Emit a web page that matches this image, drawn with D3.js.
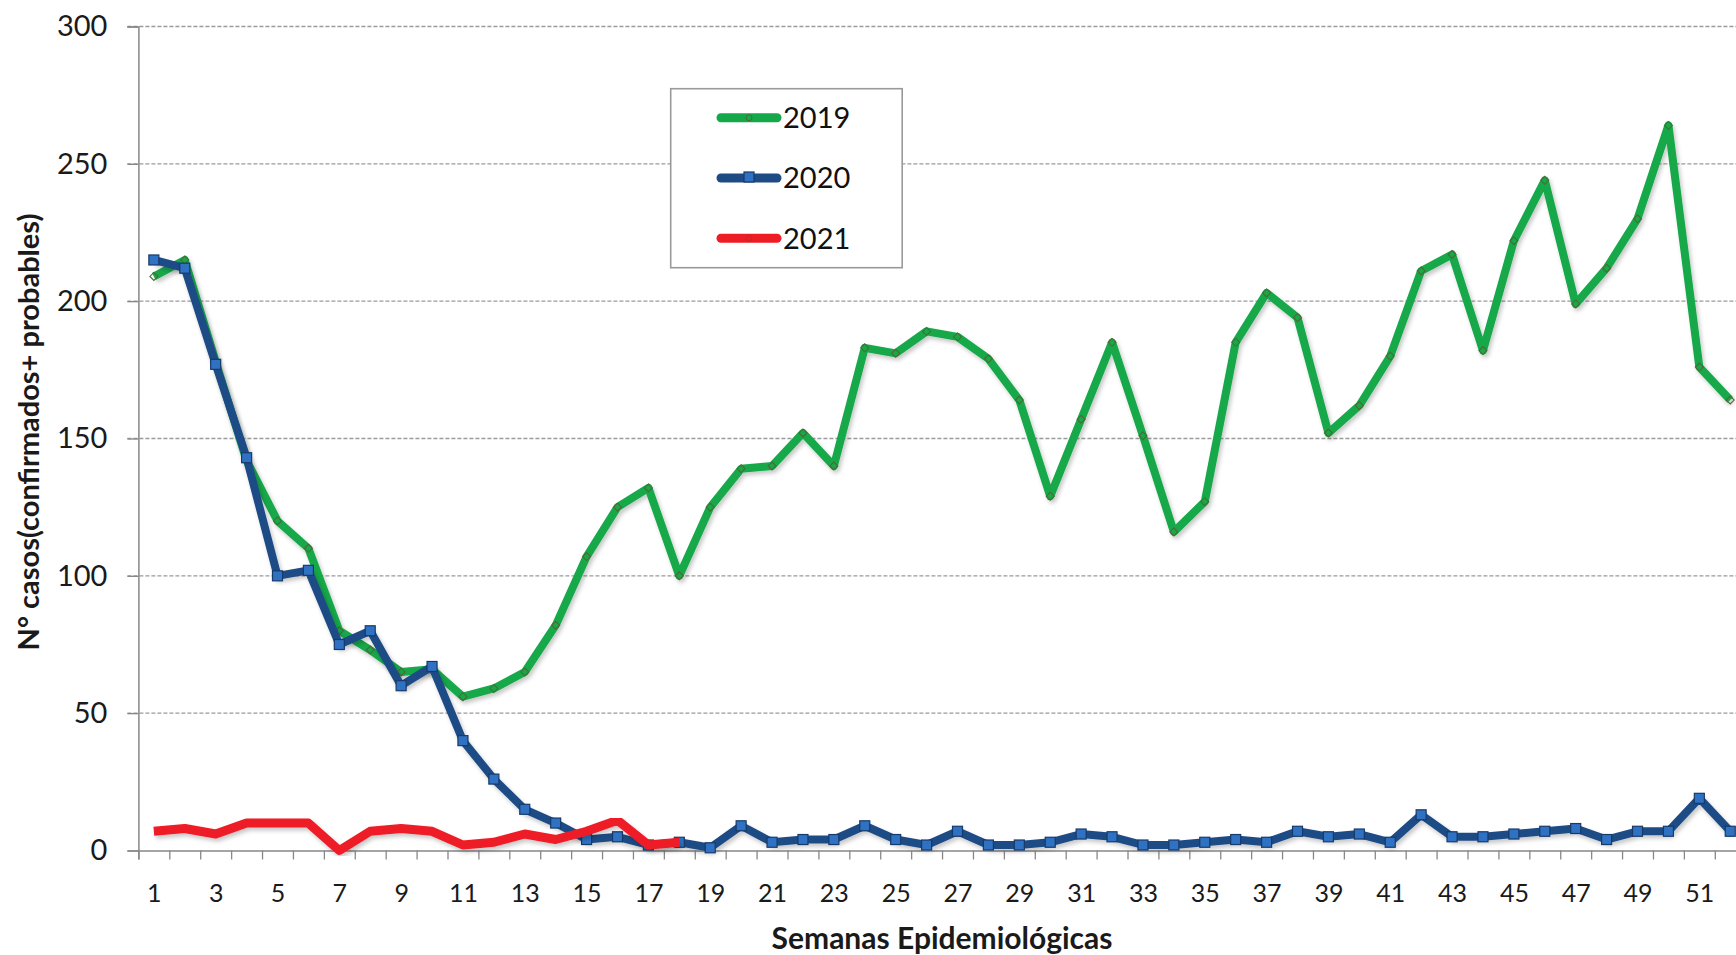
<!DOCTYPE html>
<html>
<head>
<meta charset="utf-8">
<script src="https://cdn.jsdelivr.net/npm/d3@7"></script>
<style>
  html, body { margin: 0; padding: 0; background: #fff; overflow: hidden; }
  svg { display: block; font-family: Lato, "Liberation Sans", sans-serif; }
</style>
</head>
<body>
<svg id="chart" width="1736" height="955"></svg>
<script>
const weeks = d3.range(1, 53)
const weekLabels = d3.range(1, 53, 2)
const yTicks = [0, 50, 100, 150, 200, 250, 300]

const cases2019 = [209, 215, 178, 142, 120, 110, 80, 73, 65, 66, 56, 59, 65, 82, 107, 125, 132, 100, 125, 139,
  140, 152, 140, 183, 181, 189, 187, 179, 164, 129, 157, 185, 151, 116, 127, 185, 203, 194, 152, 162,
  180, 211, 217, 182, 222, 244, 199, 212, 230, 264, 176, 164]
const cases2020 = [215, 212, 177, 143, 100, 102, 75, 80, 60, 67, 40, 26, 15, 10, 4, 5, 2, 3, 1, 9,
  3, 4, 4, 9, 4, 2, 7, 2, 2, 3, 6, 5, 2, 2, 3, 4, 3, 7, 5, 6,
  3, 13, 5, 5, 6, 7, 8, 4, 7, 7, 19, 7]
const cases2021 = [7, 8, 6, 10, 10, 10, 0, 7, 8, 7, 2, 3, 6, 4, 7, 11, 2, 3]

const series = [
  {name: "2019", values: cases2019, color: "#14a84a", marker: "diamond", width: 8},
  {name: "2020", values: cases2020, color: "#1f4b85", marker: "square", width: 8},
  {name: "2021", values: cases2021, color: "#ee1c25", marker: "none", width: 9}
]

const svg = d3.select("#chart")
const plotL = 138.4, plotR = 1745.7, plotT = 26.5, plotB = 850.5

const x = d3.scaleLinear().domain([0.5, 52.5]).range([plotL, plotR])
const y = d3.scaleLinear().domain([0, 300]).range([plotB, plotT])

const defs = svg.append("defs")
defs.append("filter")
    .attr("id", "shadow")
    .attr("x", "-5%").attr("y", "-5%").attr("width", "110%").attr("height", "120%")
  .append("feDropShadow")
    .attr("dx", 2).attr("dy", 3).attr("stdDeviation", 2)
    .attr("flood-color", "#000").attr("flood-opacity", 0.22)

// horizontal grid
svg.append("g")
  .selectAll("line")
  .data(yTicks.filter(d => d > 0))
  .join("line")
    .attr("x1", plotL - 11)
    .attr("x2", 1736)
    .attr("y1", d => y(d))
    .attr("y2", d => y(d))
    .attr("stroke", "#9a9a9a")
    .attr("stroke-width", 1.3)
    .attr("stroke-dasharray", "4,2")

// y axis
const yAxis = svg.append("g")
    .attr("transform", `translate(${plotL},0)`)
    .call(d3.axisLeft(y).tickValues(yTicks).tickSize(11).tickPadding(20))
yAxis.select(".domain").attr("stroke", "#888").attr("stroke-width", 1.5)
yAxis.selectAll(".tick line").attr("stroke", "#888").attr("stroke-width", 1.3)
yAxis.selectAll("text").attr("font-size", 29).attr("fill", "#1a1a1a")
  .attr("font-family", "Lato, sans-serif")

// x axis: boundary ticks + labels
const xAxis = svg.append("g")
    .attr("transform", `translate(0,${plotB})`)
    .call(d3.axisBottom(x).tickValues(d3.range(0.5, 52.6, 1)).tickSize(9).tickFormat(""))
xAxis.select(".domain").attr("stroke", "#888").attr("stroke-width", 1.5)
xAxis.selectAll(".tick line").attr("stroke", "#888").attr("stroke-width", 1.3)

const xLabels = svg.append("g")
    .attr("transform", `translate(0,${plotB})`)
    .call(d3.axisBottom(x).tickValues(weekLabels).tickSize(0).tickPadding(33.5))
xLabels.select(".domain").remove()
xLabels.selectAll("text").attr("font-size", 25).attr("fill", "#1a1a1a")
  .attr("font-family", "Lato, sans-serif")

// lines
const line = d3.line()
  .x((d, i) => x(weeks[i]))
  .y(d => y(d))

const plot = svg.append("g")

series.forEach(s => {
  const g = plot.append("g")
  g.append("path")
    .datum(s.values)
    .attr("d", line)
    .attr("fill", "none")
    .attr("stroke", s.color)
    .attr("stroke-width", s.width)
    .attr("stroke-linejoin", "round")
    .attr("filter", "url(#shadow)")

  if (s.marker === "square") {
    g.selectAll("rect")
      .data(s.values)
      .join("rect")
        .attr("x", (d, i) => x(weeks[i]) - 5)
        .attr("y", d => y(d) - 5)
        .attr("width", 10)
        .attr("height", 10)
        .attr("fill", "#2f72c4")
        .attr("stroke", "#183a68")
        .attr("stroke-width", 1.2)
  } else if (s.marker === "diamond") {
    g.selectAll("path.mk")
      .data(s.values)
      .join("path")
        .attr("class", "mk")
        .attr("d", d3.symbol(d3.symbolDiamond2, 40))
        .attr("transform", (d, i) => `translate(${x(weeks[i])},${y(d)})`)
        .attr("fill", "none")
        .attr("stroke", "#4b6b33")
        .attr("stroke-width", 1.1)
  }
})

// legend
const legend = svg.append("g")
legend.append("rect")
    .attr("x", 670.7).attr("y", 88.7)
    .attr("width", 231.5).attr("height", 179)
    .attr("fill", "#fff")
    .attr("stroke", "#999").attr("stroke-width", 1.6)

const legendY = d3.scalePoint().domain(series.map(s => s.name)).range([117.7, 238.3])

const item = legend.selectAll("g.item")
  .data(series)
  .join("g")
    .attr("class", "item")
    .attr("transform", d => `translate(0,${legendY(d.name)})`)

item.append("line")
    .attr("x1", 721).attr("x2", 777)
    .attr("stroke", d => d.color)
    .attr("stroke-width", 9)
    .attr("stroke-linecap", "round")

item.filter(d => d.marker === "square").append("rect")
    .attr("x", 744).attr("y", -6).attr("width", 10).attr("height", 10)
    .attr("fill", "#2f72c4").attr("stroke", "#183a68").attr("stroke-width", 1.2)
item.filter(d => d.marker !== "square").append("circle")
    .attr("cx", 749).attr("cy", 0).attr("r", 3)
    .attr("fill", "none")
    .attr("stroke", d => d.marker === "diamond" ? "#4b6b33" : "#c0282d")
    .attr("stroke-width", 1)

item.append("text")
    .attr("x", 783)
    .attr("dy", "0.36em")
    .attr("font-size", 29)
    .attr("fill", "#111")
    .text(d => d.name)

// axis titles
svg.append("text")
    .attr("x", (plotL + plotR) / 2)
    .attr("y", 949)
    .attr("text-anchor", "middle")
    .attr("font-size", 30)
    .attr("font-weight", "bold")
    .attr("fill", "#1a1a1a")
    .text("Semanas Epidemiológicas")

svg.append("text")
    .attr("transform", `translate(38.5,432) rotate(-90)`)
    .attr("text-anchor", "middle")
    .attr("font-size", 29)
    .attr("font-weight", "bold")
    .attr("fill", "#1a1a1a")
    .text("N° casos(confirmados+ probables)")
</script>
</body>
</html>
